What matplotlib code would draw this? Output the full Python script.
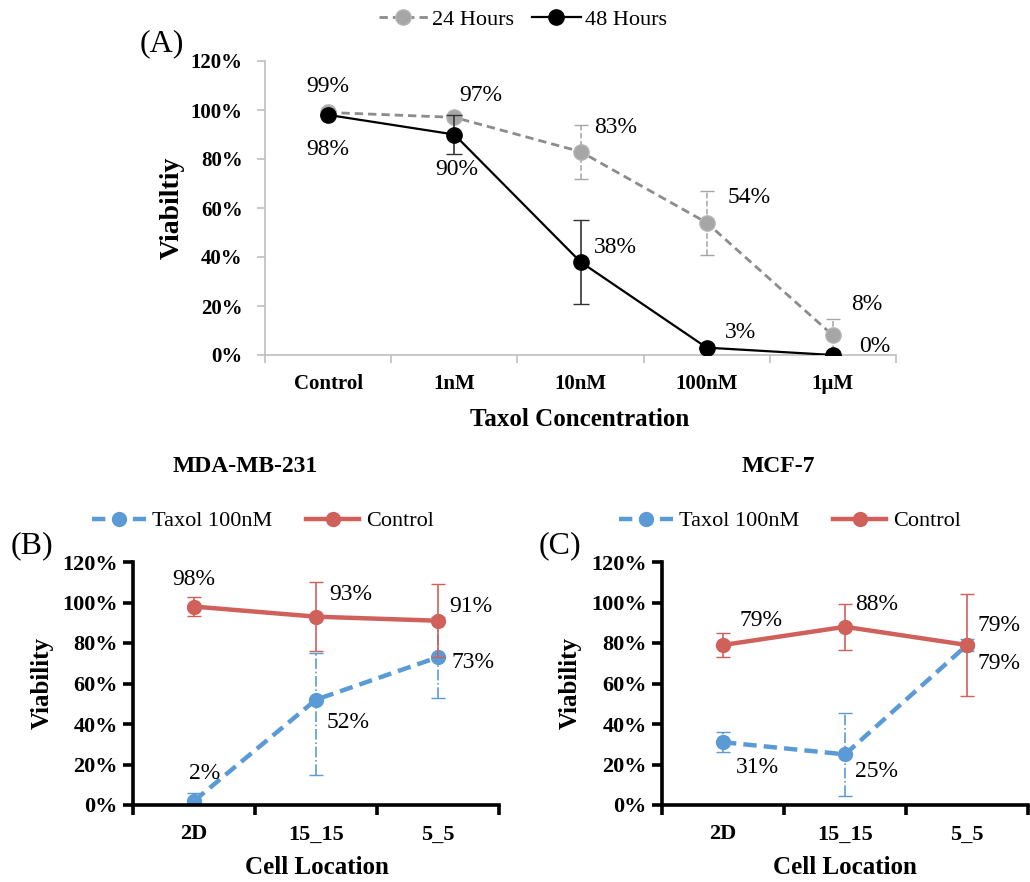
import matplotlib
matplotlib.use("Agg")
import matplotlib.pyplot as plt
import numpy as np

plt.rcParams['font.family'] = ['Liberation Serif', 'DejaVu Serif']

# panel A data
conc = ['Control', '1nM', '10nM', '100nM', '1µM']
h24 = [0.99, 0.97, 0.83, 0.54, 0.08]
h24_err = [0.0, 0.015, 0.11, 0.13, 0.065]
h48 = [0.98, 0.90, 0.38, 0.03, 0.00]
h48_err = [0.0, 0.08, 0.17, 0.0, 0.0]

# panels B and C data
loc = ['2D', '15_15', '5_5']
mda_taxol = [0.02, 0.52, 0.73]
mda_taxol_lo = [0.04, 0.37, 0.20]
mda_taxol_hi = [0.04, 0.23, 0.20]
mda_ctrl = [0.98, 0.93, 0.91]
mda_ctrl_err = [0.045, 0.17, 0.18]
mcf_taxol = [0.31, 0.25, 0.79]
mcf_taxol_lo = [0.05, 0.205, 0.03]
mcf_taxol_hi = [0.05, 0.205, 0.03]
mcf_ctrl = [0.79, 0.88, 0.79]
mcf_ctrl_err = [0.06, 0.115, 0.25]

W, H = 1030, 882
fig = plt.figure(figsize=(W / 100, H / 100), dpi=100)

def box(l, r, t, b):
    return [l / W, 1 - b / H, (r - l) / W, (b - t) / H]

def pct(v):
    return '%d%%' % round(v * 100)

def cat_axis(ax, labels, size):
    n = len(labels)
    ax.set_xlim(-0.5, n - 0.5)
    ax.set_xticks(np.arange(n + 1) - 0.5)
    ax.set_xticklabels([])
    ax.set_xticks(np.arange(n), minor=True)
    ax.set_xticklabels(labels, minor=True, fontsize=size, fontweight='bold')
    ax.tick_params(axis='x', which='minor', length=0, pad=14)
    ax.set_ylim(0, 1.2)
    ax.set_yticks(np.arange(0, 1.21, 0.2))
    ax.set_yticklabels([pct(v) for v in np.arange(0, 1.21, 0.2)],
                       fontsize=size, fontweight='bold')
    for s in ['top', 'right']:
        ax.spines[s].set_visible(False)

def labels(ax, xs, ys, offs, size):
    for x, y, o in zip(xs, ys, offs):
        ax.annotate(pct(y), (x, y), xytext=o, textcoords='offset pixels',
                    ha='center', va='center', fontsize=size)

# ---------- (A)
axA = fig.add_axes(box(265, 896, 61, 355))
x = np.arange(len(conc))
eb = axA.errorbar(x, h24, yerr=h24_err, fmt='none', ecolor='#a6a6a6',
                  elinewidth=1.1, capsize=5, zorder=2)
eb[2][0].set_linestyle('--')
axA.plot(x, h24, color='#8c8c8c', ls='--', lw=2, dashes=(3, 1.8),
         marker='o', ms=11, mfc='#a6a6a6', mec='#b5b5b5', zorder=2,
         label='24 Hours')
axA.errorbar(x, h48, yerr=h48_err, fmt='none', ecolor='#333333',
             elinewidth=1.2, capsize=6, zorder=3)
axA.plot(x, h48, color='black', ls='-', lw=1.6, marker='o', ms=11,
         mfc='black', mec='black', zorder=3, label='48 Hours')
cat_axis(axA, conc, 15)
for s in ['left', 'bottom']:
    axA.spines[s].set_color('#bfbfbf')
    axA.spines[s].set_linewidth(1.2)
axA.tick_params(axis='both', which='major', color='#bfbfbf', length=6, width=1.2)
axA.tick_params(axis='y', pad=10)
labels(axA, x, h24, [(0, 26), (26, 22), (35, 24), (42, 25), (34, 31)], 17)
labels(axA, x, h48, [(0, -35), (2, -35), (35, 14), (34, 15), (42, 9)], 17)
fig.text(172 / W, 1 - 208 / H, 'Viabiltiy', rotation=90, ha='center',
         va='center', fontsize=20, fontweight='bold')
fig.text(580 / W, 1 - 420 / H, 'Taxol Concentration', ha='center',
         va='center', fontsize=18, fontweight='bold')
fig.text(162 / W, 1 - 44 / H, '(A)', ha='center', va='center', fontsize=23)
h, l = axA.get_legend_handles_labels()
fig.legend(h, l, loc='center', bbox_to_anchor=(523 / W, 1 - 20 / H), ncol=2,
           frameon=False, fontsize=16, handlelength=2.2, handletextpad=0.2,
           columnspacing=0.8)

# ---------- (B) and (C)
red = '#d0605a'
blue = '#5b9bd5'

def panel(rect, taxol, tlo, thi, ctrl, cerr, offs_t, offs_c, title, tx, cx,
          letter, lx, ylx):
    ax = fig.add_axes(rect)
    xs = np.arange(len(loc))
    ax.plot(xs, taxol, color=blue, ls='--', lw=3.2, marker='o', ms=10,
            dashes=(3, 1.6), zorder=2, label='Taxol 100nM')
    eb = ax.errorbar(xs, taxol, yerr=[tlo, thi], fmt='none', ecolor=blue,
                     elinewidth=1.2, capsize=5, zorder=2)
    eb[2][0].set_linestyle('-.')
    ax.errorbar(xs, ctrl, yerr=cerr, fmt='none', ecolor=red, elinewidth=1.2,
                capsize=5, zorder=3)
    ax.plot(xs, ctrl, color=red, ls='-', lw=3.2, marker='o', ms=10, zorder=3,
            label='Control')
    cat_axis(ax, loc, 16)
    for s in ['left', 'bottom']:
        ax.spines[s].set_linewidth(2.6)
    ax.tick_params(axis='both', which='major', length=7, width=2.6)
    ax.tick_params(axis='y', pad=4)
    labels(ax, xs, taxol, offs_t, 17)
    labels(ax, xs, ctrl, offs_c, 17)
    fig.text(tx / W, 1 - 467 / H, title, ha='center', va='center',
             fontsize=17, fontweight='bold')
    fig.text(letter[1] / W, 1 - 546 / H, letter[0], ha='center', va='center',
             fontsize=23)
    fig.text(ylx / W, 1 - 683 / H, 'Viability', rotation=90, ha='center',
             va='center', fontsize=18, fontweight='bold')
    fig.text(cx / W, 1 - 867 / H, 'Cell Location', ha='center', va='center',
             fontsize=18, fontweight='bold')
    h, l = ax.get_legend_handles_labels()
    fig.legend(h, l, loc='center', bbox_to_anchor=(lx / W, 1 - 521 / H),
               ncol=2, frameon=False, fontsize=16, handlelength=2.4,
               handletextpad=0.3, columnspacing=1.5)
    return ax

panel(box(133, 499, 562, 805), mda_taxol, mda_taxol_lo, mda_taxol_hi,
      mda_ctrl, mda_ctrl_err,
      [(11, 27), (32, -23), (35, -5)], [(0, 27), (35, 22), (33, 14)],
      'MDA-MB-231', 245, 317, ('(B)', 32), 263, 42)
panel(box(662, 1028, 562, 805), mcf_taxol, mcf_taxol_lo, mcf_taxol_hi,
      mcf_ctrl, mcf_ctrl_err,
      [(34, -25), (32, -17), (32, -18)], [(38, 25), (32, 22), (32, 20)],
      'MCF-7', 778, 845, ('(C)', 560), 790, 570)

fig.savefig('out.png', dpi=100)
